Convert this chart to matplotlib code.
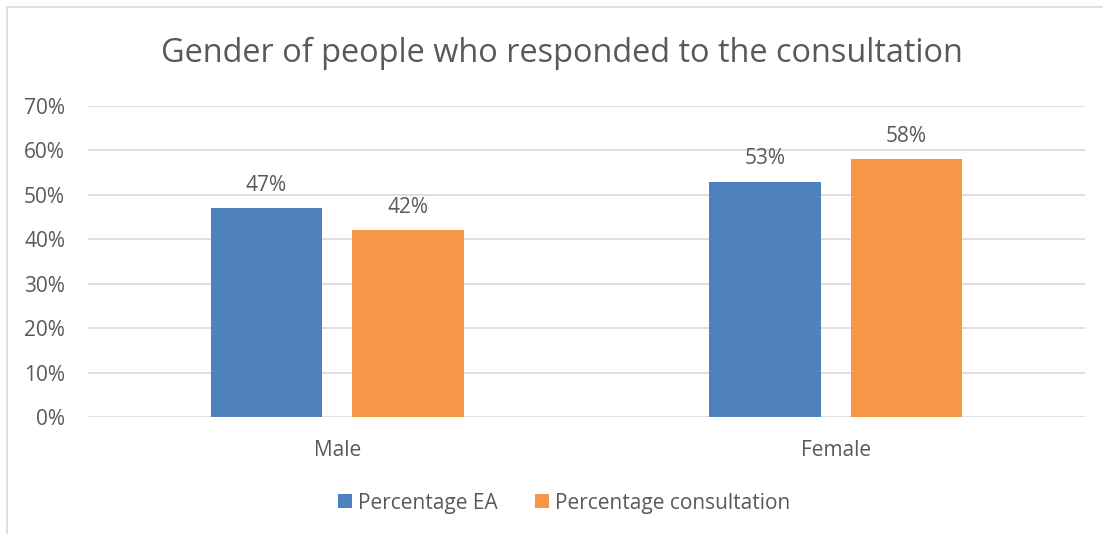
import numpy as np
import matplotlib.pyplot as plt
from matplotlib.patches import Rectangle

plt.rcParams['font.family'] = ['Open Sans', 'DejaVu Sans']

# data
categories = ['Male', 'Female']
series_names = ['Percentage EA', 'Percentage consultation']
pct_ea = [47, 53]
pct_consultation = [42, 58]
y_ticks = [0, 10, 20, 30, 40, 50, 60, 70]

text_col = '#595959'
grid_col = '#d9d9d9'
colors = ['#4f81bd', '#f79646']

W, H = 1103, 534
fig = plt.figure(figsize=(W / 100, H / 100), dpi=100)

# chart border (only top and left edges fall inside the image)
fig.patches.append(Rectangle((7 / W, -0.1), 1.2, (534 - 7) / H + 0.1,
                             transform=fig.transFigure, fill=False,
                             edgecolor=grid_col, linewidth=1.2))

ax = fig.add_axes([88 / W, (H - 417) / H, (1085 - 88) / W, (417 - 106) / H])

x = np.arange(len(categories))
bw = 0.223
off = 0.142
bars1 = ax.bar(x - off, pct_ea, bw, color=colors[0], label=series_names[0], zorder=3)
bars2 = ax.bar(x + off, pct_consultation, bw, color=colors[1], label=series_names[1], zorder=3)

for bars, vals in ((bars1, pct_ea), (bars2, pct_consultation)):
    for b, v in zip(bars, vals):
        ax.annotate(f'{v}%', (b.get_x() + b.get_width() / 2, v),
                    xytext=(0, 9), textcoords='offset points',
                    ha='center', va='bottom', fontsize=15, color=text_col)

ax.set_xlim(-0.5, len(categories) - 0.5)
ax.set_ylim(0, 70)
ax.set_yticks(y_ticks)
ax.set_yticklabels([f'{t}%' for t in y_ticks])
ax.set_xticks(x)
ax.set_xticklabels(categories)
ax.tick_params(axis='both', length=0, labelsize=15, labelcolor=text_col)
ax.tick_params(axis='y', pad=16.5)
ax.tick_params(axis='x', pad=16.5)
ax.grid(axis='y', color=grid_col, linewidth=1.2, zorder=0)
for s in ax.spines.values():
    s.set_visible(False)

fig.text(562 / W, 1 - 53 / H, 'Gender of people who responded to the consultation',
         ha='center', va='center', fontsize=23.4, color=text_col)

fig.legend(loc='center', bbox_to_anchor=(564 / W, 1 - 503 / H), ncol=2,
           frameon=False, fontsize=15, labelcolor=text_col,
           handlelength=0.67, handleheight=0.67, handletextpad=0.3,
           columnspacing=1.8)

fig.savefig('out.png', dpi=100, facecolor='white')
